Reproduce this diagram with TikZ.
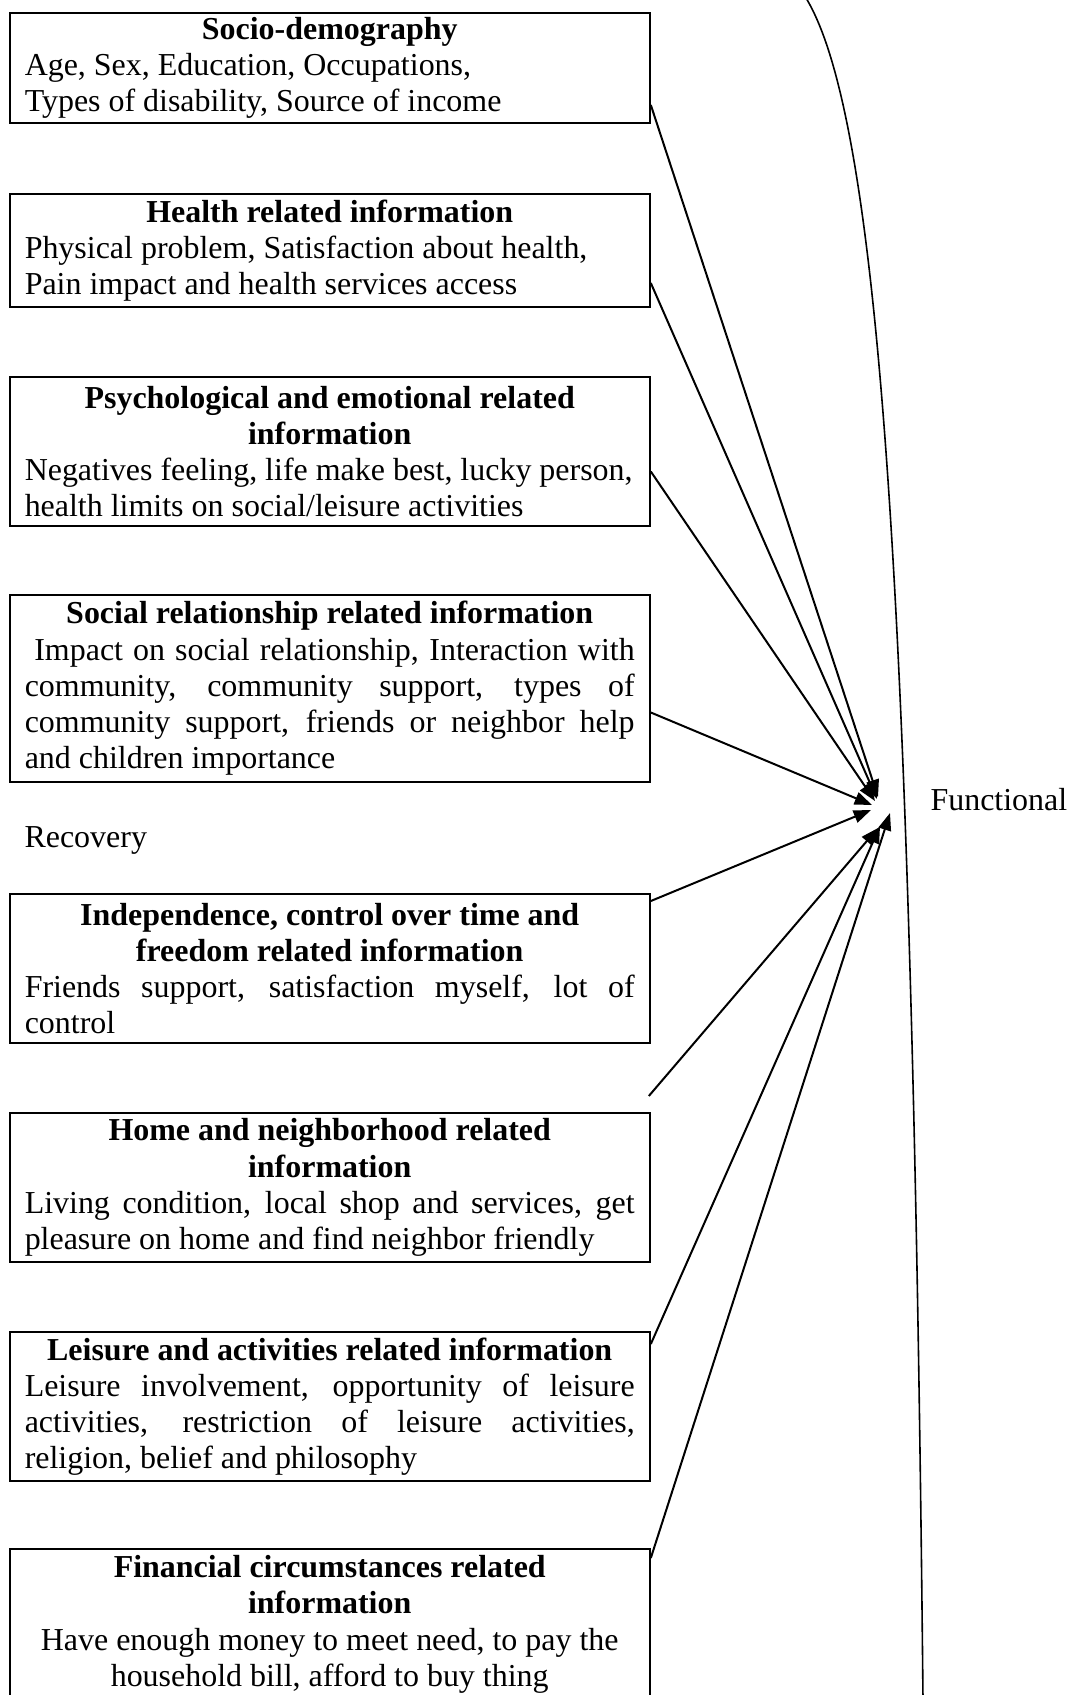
\documentclass[tikz,border=0pt]{standalone}
\usepackage{fontspec}
\setmainfont{Liberation Serif}
\usetikzlibrary{arrows.meta,positioning,calc}
\setlength{\parindent}{0pt}
\hyphenpenalty=10000
\exhyphenpenalty=10000
\newcommand{\boxhead}[1]{{\centering\bfseries #1\par}}

\begin{document}
\begin{tikzpicture}[
  x=0.0132cm, y=-0.0132cm,
  info/.style={draw, line width=0.75pt, anchor=north west, text width=8.05cm, inner xsep=0.2cm, inner ysep=0.5pt, align=justify, font=\fontsize{12}{13.6}\selectfont},
  plain/.style={inner sep=0pt, font=\fontsize{12}{13.6}\selectfont},
  flow/.style={-{Triangle[length=6.5pt,width=4.8pt]}, line width=0.75pt},
  bound/.style={line width=0.6pt}
]
\useasboundingbox (0,0) rectangle (1069,1695);

\node[info, minimum height=1.452cm] (socio) at (8.6,12) {\boxhead{Socio-demography}Age, Sex, Education, Occupations,\\ Types of disability, Source of income};
\node[info, minimum height=1.492cm] (health) at (8.6,193) {\boxhead{Health related information}Physical problem, Satisfaction about health,\\ Pain impact and health services access};
\node[info, minimum height=1.967cm] (psych) at (8.6,376) {\boxhead{Psychological and emotional related\\information}Negatives feeling, life make best, lucky person,\\ health limits on social/leisure activities};
\node[info, minimum height=2.468cm] (social) at (8.6,594) {\boxhead{Social relationship related information}\hspace*{0.3em}Impact on social relationship, Interaction with\linebreak community, community support, types of\linebreak community support, friends or neighbor help\linebreak and children importance};
\node[info, minimum height=1.967cm] (indep) at (8.6,893) {\boxhead{Independence, control over time and\\freedom related information}Friends support, satisfaction myself, lot of\linebreak control};
\node[info, minimum height=1.967cm] (home) at (8.6,1112) {\boxhead{Home and neighborhood related\\information}Living condition, local shop and services, get\linebreak pleasure on home and find neighbor friendly};
\node[info, minimum height=1.967cm] (leisure) at (8.6,1331) {\boxhead{Leisure and activities related information}Leisure involvement, opportunity of leisure\linebreak activities, restriction of leisure activities,\linebreak religion, belief and philosophy};
\node[info, minimum height=1.99cm] (finance) at (8.6,1548) {\boxhead{Financial circumstances related\\information}{\centering Have enough money to meet need, to pay the\\ household bill, afford to buy thing\par}};

\node[plain, anchor=west] (recovery) at (24,840) {Recovery};
\node[plain, anchor=west] (functional) at (930,800) {Functional};

% where the arrows meet
\coordinate (tip1) at (878,797);
\coordinate (tip2) at (877,799);
\coordinate (tip3) at (875,801);
\coordinate (tip4) at (872,805);
\coordinate (tip5) at (871,810);
\coordinate (tip6) at (878,828);
\coordinate (tip7) at (880,826);
\coordinate (tip8) at (890,813);

\draw[flow] ($(socio.south east)+(0,-19)$) -- (tip1);
\draw[flow] ($(health.south east)+(0,-25)$) -- (tip2);
\draw[flow] ($(psych.east)+(0,20)$) -- (tip3);
\draw[flow] ($(social.east)+(0,24)$) -- (tip4);
\draw[flow] ($(indep.north east)+(0,8)$) -- (tip5);
\draw[flow] ($(home.north east)+(-2,-16)$) -- (tip6);
\draw[flow] ($(leisure.north east)+(0,13)$) -- (tip7);
\draw[flow] ($(finance.north east)+(0,10)$) -- (tip8);

% long bracket on the right
\draw[bound] (806,-2) .. controls (880,120) and (912,600) .. (923,1700);
\end{tikzpicture}
\end{document}
